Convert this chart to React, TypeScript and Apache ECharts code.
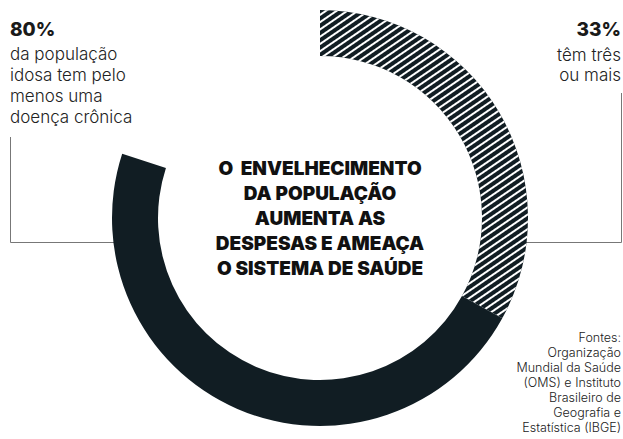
import React, { useEffect, useRef } from "react";
import * as echarts from "echarts";

const segmentNames = ["Três ou mais doenças", "Uma ou duas doenças", "Sem doença crônica"];
const segmentValues = [33, 47, 20];
const leftHeadline = "80%";
const leftLines = ["da população", "idosa tem pelo", "menos uma", "doença crônica"];
const rightHeadline = "33%";
const rightLines = ["têm três", "ou mais"];
const centerLines = [
  "O  ENVELHECIMENTO",
  "DA POPULAÇÃO",
  "AUMENTA AS",
  "DESPESAS E AMEAÇA",
  "O SISTEMA DE SAÚDE",
];
const sourceLines = [
  "Fontes:",
  "Organização",
  "Mundial da Saúde",
  "(OMS) e Instituto",
  "Brasileiro de",
  "Geografia e",
  "Estatística (IBGE)",
];

const DARK = "#111d23";
const FONT = "Inter";

export default function App() {
  const ref = useRef<HTMLDivElement>(null);
  useEffect(() => {
    if (!ref.current) return;
    const chart = echarts.init(ref.current, undefined, { renderer: "svg" });
    const cx = 320;
    const cy = 218;
    const graphics: any[] = [];
    graphics.push({
      type: "text",
      x: 10,
      y: 29,
      style: { text: leftHeadline, font: `800 19px ${FONT}`, fill: "#1a1a1a", textVerticalAlign: "middle" },
    });
    graphics.push({
      type: "text",
      x: 10,
      y: 43.5,
      style: {
        text: leftLines.join("\n"),
        fontFamily: FONT,
        fontWeight: 300,
        fontSize: 17,
        lineHeight: 21,
        fill: "#222",
        textVerticalAlign: "top",
      },
    });
    graphics.push({
      type: "text",
      x: 621,
      y: 29,
      style: { text: rightHeadline, font: `800 19px ${FONT}`, fill: "#1a1a1a", textAlign: "right", textVerticalAlign: "middle" },
    });
    graphics.push({
      type: "text",
      x: 621,
      y: 45,
      style: {
        text: rightLines.join("\n"),
        fontFamily: FONT,
        fontWeight: 300,
        fontSize: 17,
        lineHeight: 20,
        fill: "#222",
        textAlign: "right",
        textVerticalAlign: "top",
      },
    });
    graphics.push({
      type: "text",
      x: cx,
      y: 218,
      style: {
        text: centerLines.join("\n"),
        fontFamily: FONT,
        fontWeight: 900,
        fontSize: 19,
        lineHeight: 25,
        fill: "#111",
        textAlign: "center",
        textVerticalAlign: "middle",
      },
    });
    graphics.push({
      type: "text",
      x: 621,
      y: 330,
      style: {
        text: sourceLines.join("\n"),
        fontFamily: FONT,
        fontWeight: 300,
        fontSize: 12.5,
        lineHeight: 15,
        fill: "#222",
        textAlign: "right",
        textVerticalAlign: "top",
      },
    });
    graphics.push({
      type: "polyline",
      shape: { points: [[10.5, 137], [10.5, 242.5], [114, 242.5]] },
      style: { stroke: "#777", lineWidth: 1, fill: "none" },
      z: -1,
    });
    graphics.push({
      type: "polyline",
      shape: { points: [[524, 242.5], [621.5, 242.5], [621.5, 93]] },
      style: { stroke: "#777", lineWidth: 1, fill: "none" },
      z: -1,
    });

    chart.setOption({
      animation: false,
      backgroundColor: "#ffffff",
      series: [
        {
          type: "pie",
          center: [cx, cy],
          radius: [162, 208],
          startAngle: 90,
          clockwise: true,
          silent: true,
          label: { show: false },
          labelLine: { show: false },
          emphasis: { disabled: true },
          data: segmentNames.map((n, i) => ({
            name: n,
            value: segmentValues[i],
            itemStyle:
              i === 0
                ? {
                    color: DARK,
                    decal: {
                      symbol: "rect",
                      color: "#ffffff",
                      backgroundColor: DARK,
                      dashArrayX: [1, 0],
                      dashArrayY: [1.3, 4],
                      rotation: -0.6,
                    },
                  }
                : i === 1
                ? { color: DARK }
                : { color: "rgba(0,0,0,0)" },
          })),
        },
      ],
      graphic: graphics,
    });
    return () => chart.dispose();
  }, []);
  return <div ref={ref} style={{ width: 623, height: 439, position: "fixed", left: 0, top: 0 }} />;
}
